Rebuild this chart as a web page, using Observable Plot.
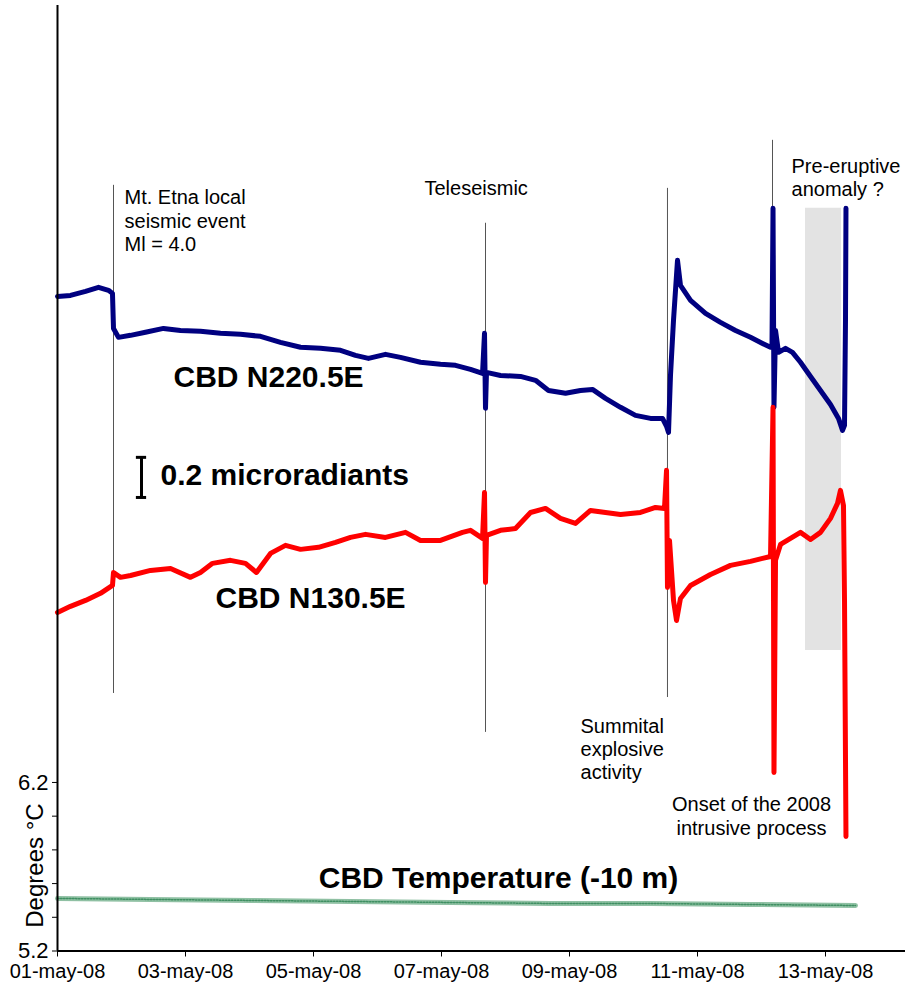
<!DOCTYPE html>
<html>
<head>
<meta charset="utf-8">
<script src="https://cdn.jsdelivr.net/npm/d3@7"></script>
<script src="https://cdn.jsdelivr.net/npm/@observablehq/plot@0.6"></script>
<style>
  html, body { margin: 0; padding: 0; background: #fff; }
  #chart { width: 907px; height: 999px; }
</style>
</head>
<body>
<div id="chart"></div>
<script>
// ---- Data (days since 01-may-08 00:00 UTC, values on the shared y axis) ----
const blueDays = [0.000,0.203,0.4375,0.641,0.797,0.859,0.875,0.953,1.141,1.375,1.656,1.922,2.234,2.547,2.859,3.172,3.484,3.797,4.109,4.422,4.656,4.859,5.125,5.359,5.672,5.984,6.219,6.453,6.641,6.672,6.6875,6.703,6.922,7.234,7.469,7.672,7.938,8.172,8.359,8.5625,8.797,9.031,9.266,9.453,9.516,9.547,9.578,9.625,9.6875,9.734,9.891,10.125,10.359,10.594,10.828,11.016,11.141,11.164,11.180,11.195,11.219,11.266,11.375,11.484,11.609,11.766,11.922,12.078,12.203,12.266,12.297,12.3125,12.320];
const blueValues = [9.084,9.090,9.114,9.138,9.120,9.102,8.894,8.841,8.853,8.871,8.894,8.882,8.877,8.865,8.859,8.847,8.811,8.782,8.776,8.764,8.734,8.716,8.740,8.722,8.693,8.681,8.675,8.651,8.627,8.865,8.420,8.633,8.615,8.609,8.586,8.526,8.509,8.526,8.532,8.479,8.426,8.378,8.360,8.360,8.313,8.277,8.615,8.942,9.298,9.150,9.061,8.983,8.930,8.882,8.841,8.805,8.782,8.793,9.607,8.426,8.882,8.752,8.776,8.752,8.693,8.609,8.526,8.443,8.360,8.289,8.319,8.942,9.607];

const redDays = [0.000,0.203,0.4375,0.672,0.859,0.875,0.984,1.141,1.453,1.766,2.078,2.234,2.422,2.703,2.9375,3.109,3.328,3.5625,3.797,4.078,4.344,4.578,4.813,5.125,5.4375,5.672,5.984,6.328,6.453,6.641,6.672,6.6875,6.703,6.922,7.156,7.391,7.625,7.859,8.094,8.328,8.5625,8.797,9.109,9.344,9.484,9.516,9.531,9.5625,9.625,9.672,9.734,9.891,10.203,10.516,10.828,11.141,11.180,11.195,11.219,11.297,11.453,11.609,11.766,11.922,12.078,12.1875,12.234,12.281,12.297,12.320];
const redValues = [7.209,7.245,7.280,7.322,7.369,7.446,7.417,7.428,7.458,7.470,7.417,7.446,7.500,7.518,7.500,7.446,7.559,7.607,7.583,7.595,7.624,7.654,7.672,7.654,7.684,7.636,7.636,7.684,7.696,7.648,7.921,7.387,7.666,7.696,7.707,7.802,7.826,7.767,7.737,7.814,7.802,7.790,7.802,7.832,7.826,8.052,7.357,7.636,7.280,7.161,7.292,7.369,7.434,7.488,7.512,7.541,8.426,6.259,7.518,7.612,7.648,7.684,7.642,7.684,7.767,7.856,7.933,7.844,7.280,5.880];

const tempDays = [0.000,1.453,3.016,4.578,6.141,7.703,9.266,10.828,12.469];
const tempValues = [5.512,5.506,5.500,5.494,5.488,5.482,5.482,5.476,5.470];

// Event markers: day, top value, bottom value
const eventDays = [0.875, 6.6875, 9.531, 11.172];
const eventTops = [9.743, 9.518, 9.725, 10.010];
const eventBottoms = [6.728, 6.497, 6.704, 6.865];

// Shaded "pre-eruptive anomaly" window
const anomalyDays = [11.6875, 12.25];
const anomalyValues = [6.983, 9.607];

// Scale bar (0.2 microradians)
const scaleBarDay = 1.3125;
const scaleBarValues = [7.891, 8.129];

// Axis ticks
const xTickDays = [0, 2, 4, 6, 8, 10, 12];
const xTickLabels = ["01-may-08","03-may-08","05-may-08","07-may-08","09-may-08","11-may-08","13-may-08"];
const yTicks = [5.2, 5.4, 5.6, 5.8, 6.0, 6.2];
const yTickLabels = ["5.2", "", "", "", "", "6.2"];

// Annotations
const notesLeft = [
  {day: 1.047, v: 9.535, text: "Mt. Etna local\nseismic event\nMl = 4.0"},
  {day: 5.734, v: 9.731, text: "Teleseismic"},
  {day: 11.469, v: 9.791, text: "Pre-eruptive\nanomaly ?"},
  {day: 8.172, v: 6.402, text: "Summital\nexplosive\nactivity"}
];
const notesCenter = [
  {day: 10.844, v: 6.004, text: "Onset of the 2008\nintrusive process"}
];
const bigLabelsLeft = [
  {day: 1.8125, v: 8.604, text: "CBD N220.5E"},
  {day: 2.469, v: 7.292, text: "CBD N130.5E"},
  {day: 1.609, v: 8.022, text: "0.2 microradiants"}
];
const bigLabelsCenter = [
  {day: 6.891, v: 5.630, text: "CBD Temperature (-10 m)"}
];

// ---- Build ----
const base = Date.UTC(2008, 4, 1);
const T = d => new Date(base + d * 864e5);
const series = (days, vals) => days.map((d, i) => ({t: T(d), v: vals[i]}));

const blue = series(blueDays, blueValues);
const red = series(redDays, redValues);
const temp = series(tempDays, tempValues);
const events = eventDays.map((d, i) => ({t: T(d), y1: eventBottoms[i], y2: eventTops[i]}));
const xTicks = xTickDays.map(T);
const yMin = 5.2, yMax = 10.81;
const font = "'Liberation Sans', Arial, sans-serif";
const tx = d => T(d.day);

const chart = Plot.plot({
  width: 907,
  height: 999,
  marginLeft: 57,
  marginRight: 2,
  marginTop: 5,
  marginBottom: 48.5,
  x: {type: "utc", domain: [T(0), T(13.25)]},
  y: {domain: [yMin, yMax]},
  style: {fontFamily: font, fontSize: "20px", background: "#fff", color: "#000"},
  marks: [
    Plot.rect([{}], {x1: T(anomalyDays[0]), x2: T(anomalyDays[1]), y1: anomalyValues[0], y2: anomalyValues[1], fill: "#e3e3e3"}),
    Plot.ruleX(events, {x: "t", y1: "y1", y2: "y2", stroke: "#555", strokeWidth: 1}),
    Plot.line(temp, {x: "t", y: "v", stroke: "#8fc0a3", strokeWidth: 5}),
    Plot.line(temp, {x: "t", y: "v", stroke: "#3f8f62", strokeWidth: 1.5, strokeDasharray: "1.5,1.5"}),
    Plot.line(blue, {x: "t", y: "v", stroke: "#000080", strokeWidth: 5, strokeLinejoin: "round"}),
    Plot.line(red, {x: "t", y: "v", stroke: "#ff0000", strokeWidth: 5, strokeLinejoin: "round"}),
    // scale bar
    Plot.ruleX([T(scaleBarDay)], {y1: scaleBarValues[0], y2: scaleBarValues[1], stroke: "#000", strokeWidth: 3}),
    Plot.ruleY(scaleBarValues, {x1: T(scaleBarDay - 0.08), x2: T(scaleBarDay + 0.08), stroke: "#000", strokeWidth: 3}),
    // annotations
    Plot.text(notesLeft, {x: tx, y: "v", text: "text", textAnchor: "start", fontSize: 20, lineHeight: 1.17, fill: "#000"}),
    Plot.text(notesCenter, {x: tx, y: "v", text: "text", textAnchor: "middle", fontSize: 20, lineHeight: 1.17, fill: "#000"}),
    Plot.text(bigLabelsLeft, {x: tx, y: "v", text: "text", textAnchor: "start", fontSize: 30, fontWeight: "bold", fill: "#000"}),
    Plot.text(bigLabelsCenter, {x: tx, y: "v", text: "text", textAnchor: "middle", fontSize: 30, fontWeight: "bold", fill: "#000"}),
    Plot.text(["Degrees °C"], {x: T(0), y: 5.707, dx: -22, rotate: -90, fontSize: 24, textAnchor: "middle", fill: "#000"}),
    // axes
    Plot.axisX({ticks: xTicks, tickFormat: (d, i) => xTickLabels[i], tickSize: 6, tickPadding: 7, fontSize: 20, label: null, stroke: "#000"}),
    Plot.axisY({ticks: yTicks, tickFormat: (d, i) => yTickLabels[i], tickSize: 5, tickPadding: 4, fontSize: 22, label: null, stroke: "#000"}),
    Plot.ruleX([T(0)], {y1: yMin, y2: yMax, stroke: "#000", strokeWidth: 2}),
    Plot.ruleY([yMin], {stroke: "#000", strokeWidth: 2})
  ]
});
document.getElementById("chart").appendChild(chart);
</script>
</body>
</html>
